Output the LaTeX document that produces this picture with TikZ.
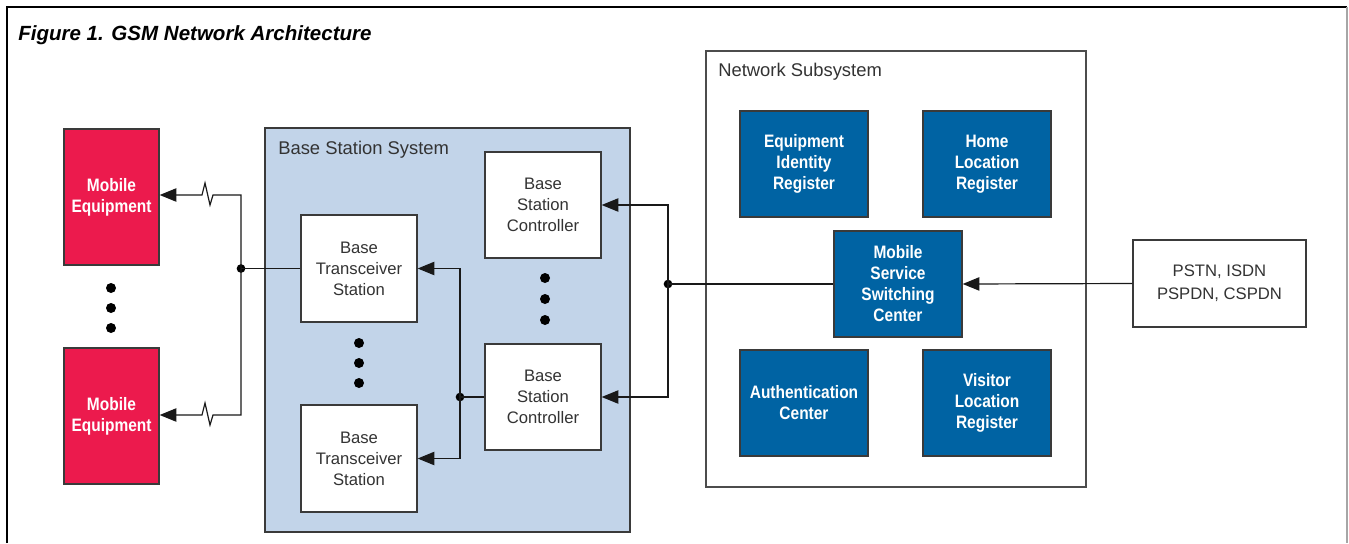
\documentclass[tikz,border=0pt]{standalone}
\usepackage{fontspec}
\setmainfont{Liberation Sans}
\newfontfamily\condbold[FakeStretch=0.86]{Liberation Sans Bold}
\usetikzlibrary{arrows.meta,calc}
\definecolor{mered}{HTML}{EC1A4D}
\definecolor{nssblue}{HTML}{0063A3}
\definecolor{bssblue}{HTML}{C2D4E9}
\definecolor{ink}{HTML}{333333}
\definecolor{edge}{HTML}{3A3A3A}
\tikzset{
  % size given in drawing units (0.75pt each)
  sized/.style 2 args={minimum width=#1*0.75pt, minimum height=#2*0.75pt},
  plainbox/.style={rectangle, draw=edge, line width=1pt, fill=white, inner sep=0pt, align=center,
    text=ink, font=\fontsize{12.5}{15.75}\selectfont},
  redbox/.style={rectangle, draw=edge, line width=1pt, fill=mered, inner sep=0pt, align=center,
    text=white, font=\condbold\fontsize{13.5}{15.75}\selectfont},
  bluebox/.style={rectangle, draw=edge, line width=1pt, fill=nssblue, inner sep=0pt, align=center,
    text=white, font=\condbold\fontsize{13.5}{15.75}\selectfont},
  region/.style={rectangle, draw=edge, line width=1pt, inner sep=0pt},
  regionlabel/.style={anchor=base west, inner sep=0pt, text=ink, font=\fontsize{13.8}{16}\selectfont},
  conn/.style={draw=black!90, line width=0.9pt},
  arr/.style={conn, -{Triangle[length=12.5pt,width=10pt]}},
  junction/.style={circle, fill=black, inner sep=0pt, minimum size=6.5pt},
  dotmark/.style={circle, fill=black, inner sep=0pt, minimum size=7.5pt},
}
\begin{document}
\begin{tikzpicture}[x=0.75pt, y=-0.75pt]
\useasboundingbox (0,0) rectangle (1349,543);

% outer frame and caption
\draw[line width=1.4pt, black] (7,543) -- (7,7) -- (1347,7);
\draw[line width=1.4pt, black!35] (1347,7) -- (1347,543);
\node[anchor=base west, inner sep=0pt, font=\bfseries\itshape\fontsize{15.4}{18}\selectfont] (title) at (18,40) {Figure 1. GSM Network Architecture};

% mobile stations
\node[redbox, sized={95}{136}] (me1) at (111.5,197) {Mobile\\Equipment};
\node[redbox, sized={95}{136}] (me2) at (111.5,416) {Mobile\\Equipment};
\foreach \y/\n in {288/a,308/b,328/c} \node[dotmark] (medot\n) at (111,\y) {};

% base station system
\node[region, fill=bssblue, sized={365}{404}] (bss) at (447.5,330) {};
\node[regionlabel] (bsslabel) at (278,154) {Base Station System};
\node[plainbox, sized={116}{107}] (bts1) at (359,268.5) {Base\\Transceiver\\Station};
\node[plainbox, sized={116}{107}] (bts2) at (359,458.5) {Base\\Transceiver\\Station};
\foreach \y/\n in {343/a,363/b,383/c} \node[dotmark] (btsdot\n) at (359,\y) {};
\node[plainbox, sized={116}{106}] (bsc1) at (543,205) {Base\\Station\\Controller};
\node[plainbox, sized={116}{106}] (bsc2) at (543,397) {Base\\Station\\Controller};
\foreach \y/\n in {278/a,299/b,320/c} \node[dotmark] (bscdot\n) at (545,\y) {};

% network subsystem
\node[region, fill=white, draw=black!70, sized={380}{436}] (nss) at (896,269) {};
\node[regionlabel] (nsslabel) at (718,76) {Network Subsystem};
\node[bluebox, sized={128}{106}] (eir) at (804,164) {Equipment\\Identity\\Register};
\node[bluebox, sized={128}{106}] (hlr) at (987,164) {Home\\Location\\Register};
\node[bluebox, sized={128}{106}] (msc) at (898,284) {Mobile\\Service\\Switching\\Center};
\node[bluebox, sized={128}{106}] (auc) at (804,403) {Authentication\\Center};
\node[bluebox, sized={128}{106}] (vlr) at (987,403) {Visitor\\Location\\Register};

% external networks
\node[plainbox, sized={173}{87}, font=\fontsize{12.5}{17.5}\selectfont] (pstn) at (1219.5,283.5) {PSTN, ISDN\\PSPDN, CSPDN};

% junction points
\node[junction] (j1) at (241,268.5) {};
\node[junction] (j2) at (460,397) {};
\node[junction] (j3) at (668,284) {};

% radio links to the mobiles
\draw[arr] (j1.center) -- ($(j1.center |- me1.east)+(0,-2)$) -- ++(-28,0) -- ++(-3,10) -- ++(-5,-22) -- ++(-3,12) -- ($(me1.east)+(0,-2)$);
\draw[arr] (j1.center) -- ($(j1.center |- me2.east)+(0,-1)$) -- ++(-28,0) -- ++(-3,10) -- ++(-5,-22) -- ++(-3,12) -- ($(me2.east)+(0,-1)$);
\draw[conn] (j1.center) -- (bts1.west);

% controller to transceivers
\draw[conn] (bsc2.west) -- (j2.center);
\draw[arr] (j2.center) |- (bts1.east);
\draw[arr] (j2.center) |- (bts2.east);

% switching center to controllers
\draw[conn] (msc.west) -- (j3.center);
\draw[arr] (j3.center) |- (bsc1.east);
\draw[arr] (j3.center) |- (bsc2.east);

% external networks to switching center
\draw[arr] (pstn.west) -- (msc.east);
\end{tikzpicture}
\end{document}
